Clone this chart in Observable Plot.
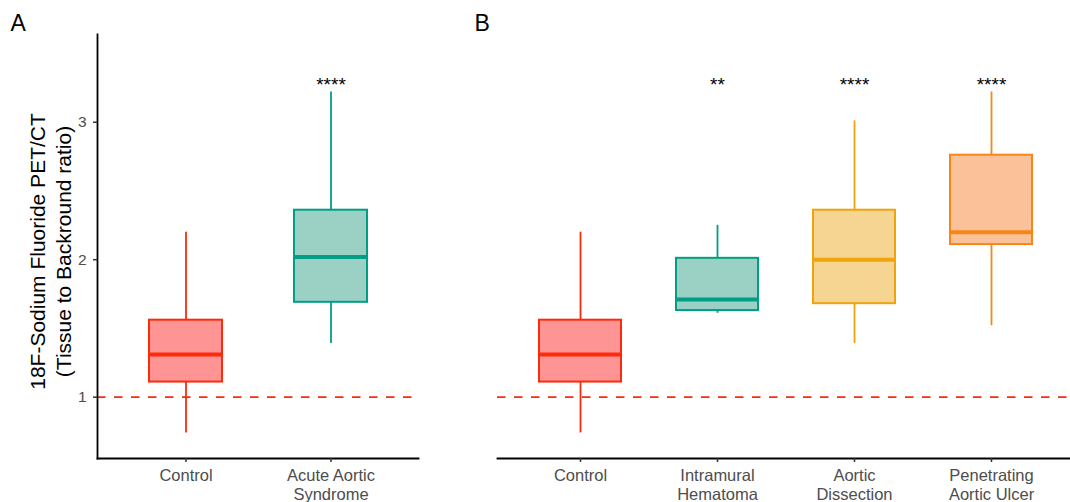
<!DOCTYPE html>
<html>
<head>
<meta charset="utf-8">
<script src="https://cdn.jsdelivr.net/npm/d3@7"></script>
<script src="https://cdn.jsdelivr.net/npm/@observablehq/plot@0.6"></script>
<style>
  body { margin: 0; background: #fff; width: 1070px; height: 502px; overflow: hidden; position: relative;
         font-family: "Liberation Sans", Arial, sans-serif; }
  .panel { position: absolute; top: 0; }
  #panelA { left: 0; }
  #panelB { left: 440px; }
</style>
</head>
<body>
<div id="panelA" class="panel"></div>
<div id="panelB" class="panel"></div>
<script>
// Box-plot summaries of the 18F-NaF tissue-to-background ratio per group
const groups = ["Control", "Acute Aortic Syndrome", "Intramural Hematoma", "Aortic Dissection", "Penetrating Aortic Ulcer"];
const tickLabels = ["Control", "Acute Aortic\nSyndrome", "Intramural\nHematoma", "Aortic\nDissection", "Penetrating\nAortic Ulcer"];
const lowerWhisker = [0.74, 1.39, 1.61, 1.39, 1.52];
const lowerQuartile = [1.11, 1.69, 1.63, 1.68, 2.11];
const medians = [1.31, 2.02, 1.71, 2.00, 2.20];
const upperQuartile = [1.56, 2.36, 2.01, 2.36, 2.76];
const upperWhisker = [2.20, 3.22, 2.25, 3.01, 3.22];
const significance = ["", "****", "**", "****", "****"];
const strokeColors = ["#FF2A0A", "#009E85", "#009E85", "#F0A30A", "#F5871A"];
const fillColors = ["#FF9494", "#9AD1C4", "#9AD1C4", "#F6D593", "#FBC199"];

const panelAGroups = [0, 1];
const panelBGroups = [0, 2, 3, 4];
const yTicks = [1, 2, 3];
const referenceLine = 1;
const significanceY = 3.27;
const yDomain = [0.554, 3.638];
const yTitle = "18F-Sodium Fluoride PET/CT\n(Tissue to Backround ratio)";

const font = "'Liberation Sans', Arial, sans-serif";

function rowsFor(indices) {
  return indices.map(i => ({
    group: groups[i], label: tickLabels[i],
    lo: lowerWhisker[i], q1: lowerQuartile[i], med: medians[i], q3: upperQuartile[i], hi: upperWhisker[i],
    sig: significance[i], stroke: strokeColors[i], fill: fillColors[i]
  }));
}

function panel({indices, width, marginLeft, marginRight, range, paddingInner, paddingOuter, letter, letterDx, showY}) {
  const rows = rowsFor(indices);
  const labelOf = Object.fromEntries(rows.map(d => [d.group, d.label]));
  const marks = [
    Plot.ruleY([referenceLine], {stroke: "#FF2A0A", strokeWidth: 1.8, strokeDasharray: "8.5,8.5"}),
    Plot.ruleX(rows, {x: "group", y1: "lo", y2: "q1", stroke: "stroke", strokeWidth: 1.8}),
    Plot.ruleX(rows, {x: "group", y1: "q3", y2: "hi", stroke: "stroke", strokeWidth: 1.8}),
    Plot.barY(rows, {x: "group", y1: "q1", y2: "q3", fill: "fill", stroke: "stroke", strokeWidth: 2}),
    Plot.tickY(rows, {x: "group", y: "med", stroke: "stroke", strokeWidth: 4}),
    Plot.text(rows, {x: "group", y: () => significanceY, text: "sig", fontSize: 19, fill: "#000"}),
    Plot.frame({anchor: "bottom", stroke: "#000", strokeWidth: 1.8}),
    Plot.axisX({tickSize: 4, tickPadding: 5, fontSize: 16.5, fill: "#4d4d4d", stroke: "#333", strokeWidth: 1.5,
                lineHeight: 1.14, tickFormat: g => labelOf[g], label: null}),
    Plot.text([letter], {frameAnchor: "top-left", textAnchor: "start", lineAnchor: "top",
                         dx: letterDx, dy: -20, fontSize: 23, fill: "#000"})
  ];
  if (showY) {
    marks.push(
      Plot.frame({anchor: "left", stroke: "#000", strokeWidth: 1.8}),
      Plot.axisY(yTicks, {tickSize: 4, tickPadding: 7, fontSize: 15.5, fill: "#4d4d4d", stroke: "#333",
                          strokeWidth: 1.5, tickFormat: d => String(d), label: null}),
      Plot.text([yTitle], {frameAnchor: "left", rotate: -90, textAnchor: "middle", lineAnchor: "middle",
                           dx: -48, dy: 5, fontSize: 21, lineHeight: 1.25, fill: "#000"})
    );
  }
  return Plot.plot({
    width, height: 502,
    marginTop: 34, marginBottom: 44, marginLeft, marginRight,
    style: {fontFamily: font, background: "transparent", overflow: "visible", maxWidth: "none"},
    x: {type: "band", domain: rows.map(d => d.group), range, paddingInner, paddingOuter, axis: null},
    y: {domain: yDomain, axis: null},
    color: {type: "identity"},
    marks
  });
}

document.getElementById("panelA").append(panel({
  indices: panelAGroups, width: 440, marginLeft: 97, marginRight: 22,
  range: [97, 418], paddingInner: 0.5, paddingOuter: 0.35,
  letter: "A", letterDx: -87, showY: true
}));

document.getElementById("panelB").append(panel({
  indices: panelBGroups, width: 640, marginLeft: 57, marginRight: 5,
  range: [57, 635], paddingInner: 0.4, paddingOuter: 0.3,
  letter: "B", letterDx: -23, showY: false
}));
</script>
</body>
</html>
